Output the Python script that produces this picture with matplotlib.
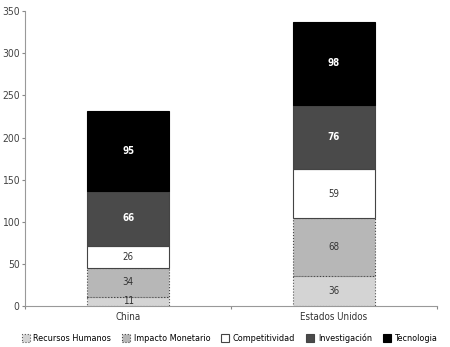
import matplotlib
matplotlib.use('Agg')
import matplotlib.pyplot as plt
import numpy as np
from matplotlib.patches import Patch

# datos del grafico
paises = ['China', 'Estados Unidos']
recursos_humanos = [11, 36]
impacto_monetario = [34, 68]
competitividad = [26, 59]
investigacion = [66, 76]
tecnologia = [95, 98]

series = [
    ('Recursos Humanos', recursos_humanos, '#d4d4d4', '#555555', ':', '#333333'),
    ('Impacto Monetario', impacto_monetario, '#b7b7b7', '#444444', ':', '#333333'),
    ('Competitividad', competitividad, '#ffffff', '#444444', '-', '#333333'),
    ('Investigación', investigacion, '#4a4a4a', '#444444', '-', '#ffffff'),
    ('Tecnologia', tecnologia, '#000000', '#000000', '-', '#ffffff'),
]

plt.rcParams['font.family'] = ['DejaVu Sans']
plt.rcParams['font.stretch'] = 'condensed'

fig = plt.figure(figsize=(4.5, 3.47), dpi=100)
ax = fig.add_axes([0.056, 0.118, 0.915, 0.85])

x = np.arange(len(paises))
bottom = np.zeros(len(paises))
handles = []
for name, vals, color, edge, ls, tcolor in series:
    vals = np.array(vals, dtype=float)
    ax.bar(x, vals, width=0.4, bottom=bottom, color=color, edgecolor=edge,
           linewidth=0.8, linestyle=ls)
    for xi, b, v in zip(x, bottom, vals):
        ax.text(xi, b + v / 2, f'{int(v)}', ha='center', va='center',
                fontsize=7, color=tcolor, fontweight='bold' if tcolor == '#ffffff' else 'normal')
    bottom += vals
    handles.append(Patch(facecolor=color, edgecolor=edge, linestyle=ls, linewidth=0.8, label=name))

ax.set_xlim(-0.5, 1.5)
ax.set_ylim(0, 350)
ax.set_yticks(range(0, 351, 50))
ax.set_xticks([-0.5, 0.5, 1.5])
ax.set_xticklabels([])
ax.set_xticks(x, minor=True)
ax.set_xticklabels(paises, minor=True)
ax.tick_params(axis='x', which='minor', length=0, labelsize=7, colors='#333333', pad=4)
ax.tick_params(axis='x', which='major', length=2, color='#888888')
ax.tick_params(axis='y', length=2, labelsize=7.5, colors='#444444', pad=2, color='#888888')

for s in ['top', 'right']:
    ax.spines[s].set_visible(False)
ax.spines['left'].set_color('#999999')
ax.spines['bottom'].set_color('#999999')

fig.legend(handles=handles, loc='center', ncol=5, frameon=False,
           fontsize=6.5, bbox_to_anchor=(0.51, 0.025), handlelength=0.9,
           handleheight=0.9, handletextpad=0.4, columnspacing=1.2)

fig.savefig('out.png', dpi=100)
